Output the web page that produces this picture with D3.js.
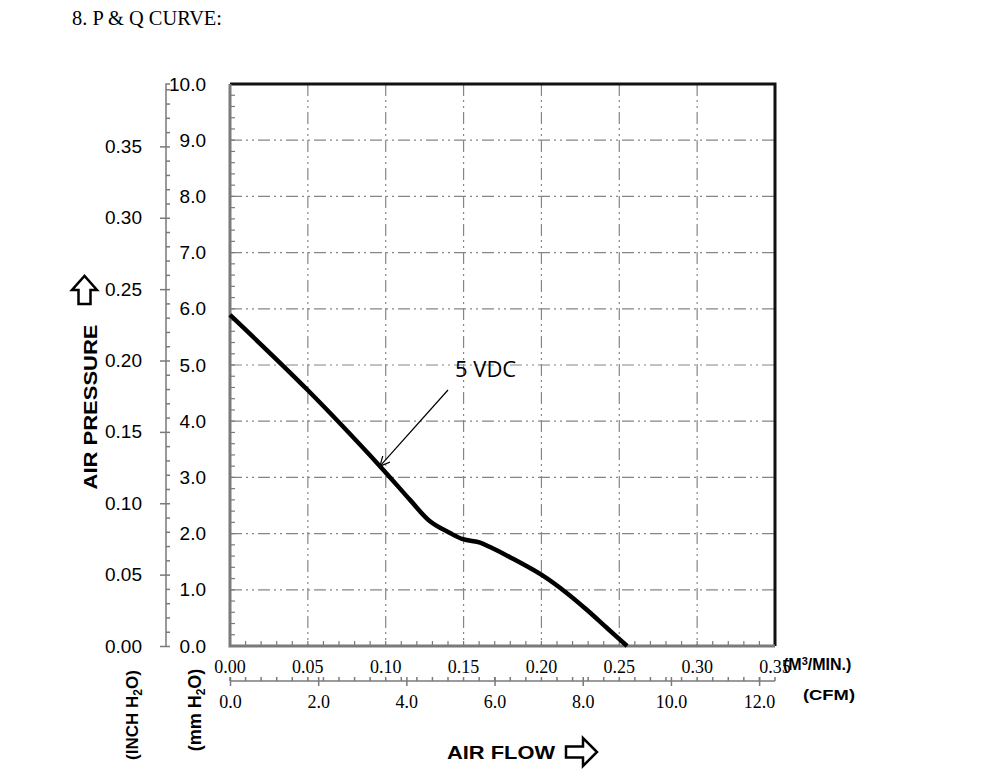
<!DOCTYPE html>
<html>
<head>
<meta charset="utf-8">
<script src="https://cdn.jsdelivr.net/npm/d3@7"></script>
<style>
  body { margin: 0; background: #fff; }
  svg { display: block; }
</style>
</head>
<body>
<div id="chart"></div>
<script>
// P & Q curve, flow in m3/min, pressure in mm H2O
var flowM3 = [0.000, 0.050, 0.0963, 0.1156, 0.1284, 0.1413, 0.1496, 0.1606, 0.1670, 0.1798, 0.2004, 0.2164, 0.2293, 0.2421, 0.2550];
var pressMm = [5.89, 4.55, 3.20, 2.60, 2.22, 2.01, 1.90, 1.84, 1.76, 1.58, 1.26, 0.94, 0.64, 0.32, 0.00];

var m3Ticks = [0.00, 0.05, 0.10, 0.15, 0.20, 0.25, 0.30, 0.35];
var cfmTicks = [0, 2, 4, 6, 8, 10, 12];
var mmTicks = [0, 1, 2, 3, 4, 5, 6, 7, 8, 9, 10];
var inchTicks = [0.00, 0.05, 0.10, 0.15, 0.20, 0.25, 0.30, 0.35];
var seriesLabel = "5 VDC";

var width = 1000, height = 780;
var plotL = 230, plotR = 775, plotT = 84, plotB = 646;

var svg = d3.select("#chart").append("svg")
    .attr("width", width)
    .attr("height", height);

var x = d3.scaleLinear().domain([0, 0.35]).range([plotL, plotR]);
var xCfm = d3.scaleLinear().domain([0, 0.35 * 35.3147]).range([plotL, plotR]);
var y = d3.scaleLinear().domain([0, 10]).range([plotB, plotT]);
var yIn = d3.scaleLinear().domain([0, 10 / 25.4]).range([plotB, plotT]);

var grey = "#7a7a7a";
var sans = "'Liberation Sans', Arial, sans-serif";
var serif = "'Liberation Serif', 'Times New Roman', serif";

// title
svg.append("text")
    .attr("x", 72).attr("y", 25)
    .attr("font-family", serif).attr("font-size", 22)
    .attr("textLength", 150).attr("lengthAdjust", "spacingAndGlyphs")
    .text("8. P & Q CURVE:");

// grid lines (dash dot dot)
var grid = svg.append("g")
    .attr("stroke", "#858585")
    .attr("stroke-width", 1.2)
    .attr("stroke-dasharray", "12,4,2,4,2,4");

grid.selectAll(".vg")
    .data(m3Ticks.filter(function(d) { return d > 0 && d < 0.349; }))
    .enter().append("line")
    .attr("x1", function(d) { return x(d); })
    .attr("x2", function(d) { return x(d); })
    .attr("y1", plotT).attr("y2", plotB);

grid.selectAll(".hg")
    .data(mmTicks.filter(function(d) { return d > 0 && d < 10; }))
    .enter().append("line")
    .attr("x1", plotL).attr("x2", plotR)
    .attr("y1", function(d) { return y(d); })
    .attr("y2", function(d) { return y(d); });

// minor ticks on frame
var minorMm = d3.range(0, 10.001, 0.2);
svg.append("g").selectAll("line")
    .data(minorMm)
    .enter().append("line")
    .attr("x1", plotL).attr("x2", plotL + 5)
    .attr("y1", function(d) { return y(d); })
    .attr("y2", function(d) { return y(d); })
    .attr("stroke", grey).attr("stroke-width", 1.2);

var minorM3 = d3.range(0, 0.3501, 0.01);
svg.append("g").selectAll("line")
    .data(minorM3)
    .enter().append("line")
    .attr("x1", function(d) { return x(d); })
    .attr("x2", function(d) { return x(d); })
    .attr("y1", plotB).attr("y2", plotB - 5)
    .attr("stroke", grey).attr("stroke-width", 1.2);

// frame
svg.append("path")
    .attr("d", "M" + plotL + "," + plotT + "H" + plotR + "V" + plotB)
    .attr("fill", "none").attr("stroke", "#111").attr("stroke-width", 3);
svg.append("path")
    .attr("d", "M" + plotL + "," + plotT + "V" + plotB + "H" + plotR)
    .attr("fill", "none").attr("stroke", grey).attr("stroke-width", 3);

// curve
var line = d3.line()
    .x(function(d, i) { return x(flowM3[i]); })
    .y(function(d, i) { return y(pressMm[i]); })
    .curve(d3.curveCatmullRom.alpha(0.5));

svg.append("path")
    .datum(flowM3)
    .attr("d", line)
    .attr("fill", "none")
    .attr("stroke", "#000")
    .attr("stroke-width", 4.5)
    .attr("stroke-linecap", "butt");

// annotation
svg.append("defs").append("marker")
    .attr("id", "arr")
    .attr("viewBox", "0 0 10 10")
    .attr("refX", 10).attr("refY", 5)
    .attr("markerWidth", 10).attr("markerHeight", 10)
    .attr("markerUnits", "userSpaceOnUse")
    .attr("orient", "auto")
    .append("path")
    .attr("d", "M0,0 L10,5 L0,10")
    .attr("fill", "none").attr("stroke", "#000").attr("stroke-width", 1.2);

svg.append("line")
    .attr("x1", 448).attr("y1", 390)
    .attr("x2", x(flowM3[2])).attr("y2", y(pressMm[2]))
    .attr("stroke", "#000").attr("stroke-width", 1.2)
    .attr("marker-end", "url(#arr)");

svg.append("text")
    .attr("x", 455).attr("y", 377)
    .attr("font-family", "'Open Sans', sans-serif").attr("font-size", 22)
    .text(seriesLabel);

// inch H2O axis
var inchAxis = svg.append("g")
    .attr("transform", "translate(166,0)")
    .call(d3.axisLeft(yIn).tickValues(inchTicks).tickSize(6).tickPadding(18)
        .tickFormat(d3.format(".2f")));
inchAxis.select(".domain").attr("stroke", grey).attr("stroke-width", 1.5)
    .attr("d", "M4," + plotT + "H0V" + plotB);
inchAxis.selectAll(".tick line").attr("stroke", grey).attr("stroke-width", 1.5);
inchAxis.selectAll("text").attr("font-family", sans).attr("font-size", 19).attr("fill", "#000");

var inchMinor = svg.append("g")
    .attr("transform", "translate(166,0)")
    .call(d3.axisRight(yIn).tickValues(d3.range(0, 0.3901, 0.01)).tickSize(4).tickFormat(""));
inchMinor.select(".domain").remove();
inchMinor.selectAll(".tick line").attr("stroke", grey).attr("stroke-width", 1.5);

// mm H2O labels
var mmAxis = svg.append("g")
    .attr("transform", "translate(206,0)")
    .call(d3.axisLeft(y).tickValues(mmTicks).tickSize(0).tickPadding(0)
        .tickFormat(d3.format(".1f")));
mmAxis.select(".domain").remove();
mmAxis.selectAll("text").attr("font-family", sans).attr("font-size", 19).attr("fill", "#000");

// m3/min labels
svg.append("g").selectAll("text")
    .data(m3Ticks)
    .enter().append("text")
    .attr("x", function(d) { return x(d); })
    .attr("y", 673)
    .attr("text-anchor", "middle")
    .attr("font-family", serif).attr("font-size", 18)
    .text(function(d) { return d3.format(".2f")(d); });

// CFM axis
var cfmAxis = svg.append("g")
    .attr("transform", "translate(0,681)")
    .call(d3.axisBottom(xCfm).tickValues(cfmTicks).tickSize(5).tickPadding(9)
        .tickFormat(d3.format(".1f")));
cfmAxis.select(".domain").attr("stroke", grey).attr("stroke-width", 1.5)
    .attr("d", "M" + plotL + ",0H" + plotR);
cfmAxis.selectAll(".tick line").attr("stroke", grey).attr("stroke-width", 1.5)
    .attr("y1", -4);
cfmAxis.selectAll("text").attr("font-family", serif).attr("font-size", 18).attr("fill", "#000");

svg.append("g").selectAll("line")
    .data(minorM3)
    .enter().append("line")
    .attr("x1", function(d) { return x(d); })
    .attr("x2", function(d) { return x(d); })
    .attr("y1", 681).attr("y2", 677)
    .attr("stroke", grey).attr("stroke-width", 1.5);

// unit labels
svg.append("text")
    .attr("x", 783).attr("y", 670)
    .attr("font-family", sans).attr("font-weight", "900").attr("font-size", 16)
    .html("(M<tspan font-size='11' dy='-5'>3</tspan><tspan dy='5'>/MIN.)</tspan>");

svg.append("text")
    .attr("x", 803).attr("y", 700)
    .attr("font-family", sans).attr("font-weight", "900").attr("font-size", 15)
    .attr("textLength", 52).attr("lengthAdjust", "spacingAndGlyphs")
    .text("(CFM)");

svg.append("text")
    .attr("transform", "translate(138,715) rotate(-90)")
    .attr("text-anchor", "middle")
    .attr("font-family", sans).attr("font-weight", "900").attr("font-size", 17)
    .html("(INCH H<tspan font-size='12' dy='4'>2</tspan><tspan dy='-4'>O)</tspan>");

svg.append("text")
    .attr("transform", "translate(201,710) rotate(-90)")
    .attr("text-anchor", "middle")
    .attr("font-family", sans).attr("font-weight", "900").attr("font-size", 18)
    .html("(mm H<tspan font-size='12' dy='4'>2</tspan><tspan dy='-4'>O)</tspan>");

// axis titles
svg.append("text")
    .attr("transform", "translate(97,407) rotate(-90)")
    .attr("text-anchor", "middle")
    .attr("font-family", sans).attr("font-weight", "900").attr("font-size", 19)
    .attr("textLength", 165).attr("lengthAdjust", "spacingAndGlyphs")
    .text("AIR PRESSURE");

svg.append("text")
    .attr("x", 447).attr("y", 759)
    .attr("font-family", sans).attr("font-weight", "900").attr("font-size", 18)
    .attr("textLength", 108).attr("lengthAdjust", "spacingAndGlyphs")
    .text("AIR FLOW");

// hollow arrows
svg.append("path")
    .attr("d", "M566,746.5 L583,746.5 L583,738 L597,752 L583,766 L583,757.5 L566,757.5 Z")
    .attr("fill", "#fff").attr("stroke", "#000").attr("stroke-width", 2.5)
    .attr("stroke-linejoin", "miter");

svg.append("path")
    .attr("d", "M78.5,304 L78.5,290 L72,290 L84.5,276 L97,290 L90.5,290 L90.5,304 Z")
    .attr("fill", "#fff").attr("stroke", "#000").attr("stroke-width", 2.5)
    .attr("stroke-linejoin", "miter");
</script>
</body>
</html>
